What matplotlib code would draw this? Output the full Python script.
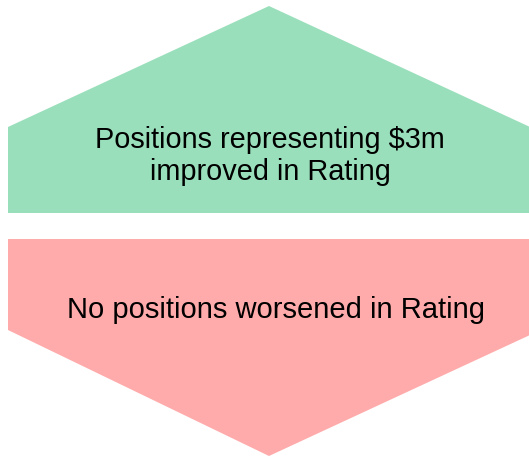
import matplotlib
matplotlib.use("Agg")
from matplotlib import pyplot as plt
from matplotlib.patches import Polygon

plt.rcParams['font.family'] = ['Liberation Sans', 'DejaVu Sans']

# shape outlines in pixel coords (x, y from top)
up_x = [8, 269, 530, 530, 8]
up_y = [127, 6, 127, 213, 213]
down_x = [8, 530, 530, 269, 8]
down_y = [239, 239, 335, 456, 330]

up_label = "Positions representing \\$3m\nimproved in Rating"
down_label = "No positions worsened in Rating"
up_color = '#9adfbb'
down_color = '#ffabab'

fig = plt.figure(figsize=(5.29, 4.57), dpi=100)
ax = fig.add_axes([0, 0, 1, 1])
ax.set_xlim(0, 529)
ax.set_ylim(457, 0)
ax.axis('off')

ax.add_patch(Polygon(list(zip(up_x, up_y)), closed=True, facecolor=up_color, edgecolor='none'))
ax.add_patch(Polygon(list(zip(down_x, down_y)), closed=True, facecolor=down_color, edgecolor='none'))

ax.text(270, 156, up_label, ha='center', va='center', fontsize=20.8, linespacing=1.18, color='black')
ax.text(276, 310, down_label, ha='center', va='center', fontsize=21, color='black')

fig.savefig('out.png', dpi=100)
